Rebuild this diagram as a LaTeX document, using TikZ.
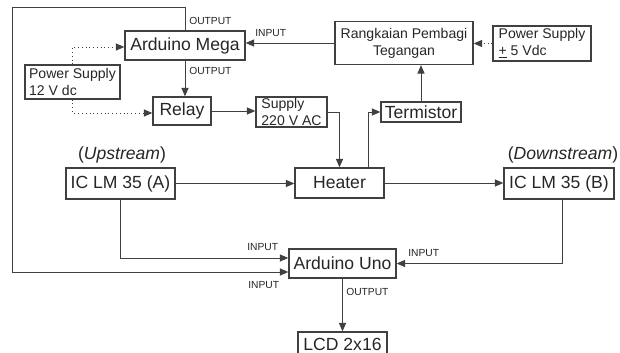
\documentclass[tikz,border=0pt]{standalone}
\usepackage{fontspec}
\setmainfont{Liberation Sans}
\usetikzlibrary{arrows.meta,calc}

\begin{document}
\begin{tikzpicture}[
  x=0.025cm, y=-0.025cm,
  kotak/.style={draw=black!75, line width=0.9pt, text=black!85, inner sep=0pt,
                font=\fontsize{12.5}{14}\selectfont},
  kecil/.style={font=\fontsize{10}{12}\selectfont},
  ket/.style={text=black!85, inner sep=0pt, anchor=west, font=\fontsize{7.3}{8}\selectfont},
  panah/.style={-{Triangle[length=6pt,width=5pt]}, draw=black!75, line width=0.7pt},
  putus/.style={panah, dotted}
]
\clip (0,0) rectangle (620,353);
% blok-blok
\node[kotak, minimum width=3cm, minimum height=0.725cm] (mega) at (185,45.5) {Arduino Mega};
\node[kotak, kecil, align=center, minimum width=3.45cm, minimum height=1.075cm] (rangkaian) at (404,43) {Rangkaian Pembagi\\Tegangan};
\node[kotak, kecil, align=left, minimum width=2.45cm, minimum height=0.875cm] (catu5) at (542,43.5) {Power Supply\\\underline{+} 5 Vdc};
\node[kotak, kecil, align=left, minimum width=2.375cm, minimum height=0.85cm] (catu12) at (72.5,82) {Power Supply\\12 V dc};
\node[kotak, minimum width=1.45cm, minimum height=0.7cm] (relay) at (182,111) {Relay};
\node[kotak, kecil, align=left, minimum width=1.775cm, minimum height=0.75cm] (supply) at (291.5,112) {Supply\\220 V AC};
\node[kotak, minimum width=2cm, minimum height=0.5cm] (termistor) at (421,112) {Termistor};
\node[kotak, minimum width=2.225cm, minimum height=0.75cm] (heater) at (339.5,183) {Heater};
\node[kotak, minimum width=2.725cm, minimum height=0.775cm] (lmA) at (120.5,183.5) {IC LM 35 (A)};
\node[kotak, minimum width=2.75cm, minimum height=0.775cm] (lmB) at (559,183.5) {IC LM 35 (B)};
\node[kotak, minimum width=2.675cm, minimum height=0.725cm] (uno) at (342.5,263.5) {Arduino Uno};
\node[kotak, minimum width=2.225cm, minimum height=0.6cm] (lcd) at (342.5,344) {LCD 2x16};
% keterangan
\node[ket] (outMega) at (189,21) {OUTPUT};
\node[ket] (inMega) at (255,33) {INPUT};
\node[ket] (outRelay) at (189,71) {OUTPUT};
\node[ket] (inUnoA) at (247,247) {INPUT};
\node[ket] (inUnoB) at (248,285) {INPUT};
\node[ket] (inUnoC) at (408,253) {INPUT};
\node[ket] (outUno) at (346,292) {OUTPUT};
\node[kotak, draw=none] (hulu) at (122,155) {(\textit{Upstream})};
\node[kotak, draw=none] (hilir) at (563,155) {(\textit{Downstream})};
% sambungan
\coordinate (pojok) at (12,7);
\draw[panah] (mega.north) |- (pojok) |- ($(uno.west)+(0,8.5)$);
\draw[panah] (rangkaian.west) -- (mega.east |- rangkaian.west);
\draw[putus] (catu5.west) -- (rangkaian.east |- catu5.west);
\draw[panah] (termistor.north) -- (termistor.north |- rangkaian.south);
\draw[panah] (mega.south) -- (mega.south |- relay.north);
\draw[putus] (catu12.north) |- ($(mega.west)+(0,1.5)$);
\draw[putus] (catu12.south) |- ($(relay.west)+(0,2)$);
\draw[panah] (relay.east) -- (relay.east -| supply.west);
\draw[panah] (supply.east) -| (heater.north);
\draw[panah] ($(heater.north)+(28.5,0)$) |- (termistor.west);
\draw[panah] (lmA.east) -- (lmA.east -| heater.west);
\draw[panah] (heater.east) -- (heater.east -| lmB.west);
\draw[panah] (lmA.south) |- ($(uno.west)+(0,-5.5)$);
\draw[panah] ($(lmB.south)+(3,0)$) |- (uno.east);
\draw[panah] (uno.south) -- (lcd.north);
\end{tikzpicture}
\end{document}
